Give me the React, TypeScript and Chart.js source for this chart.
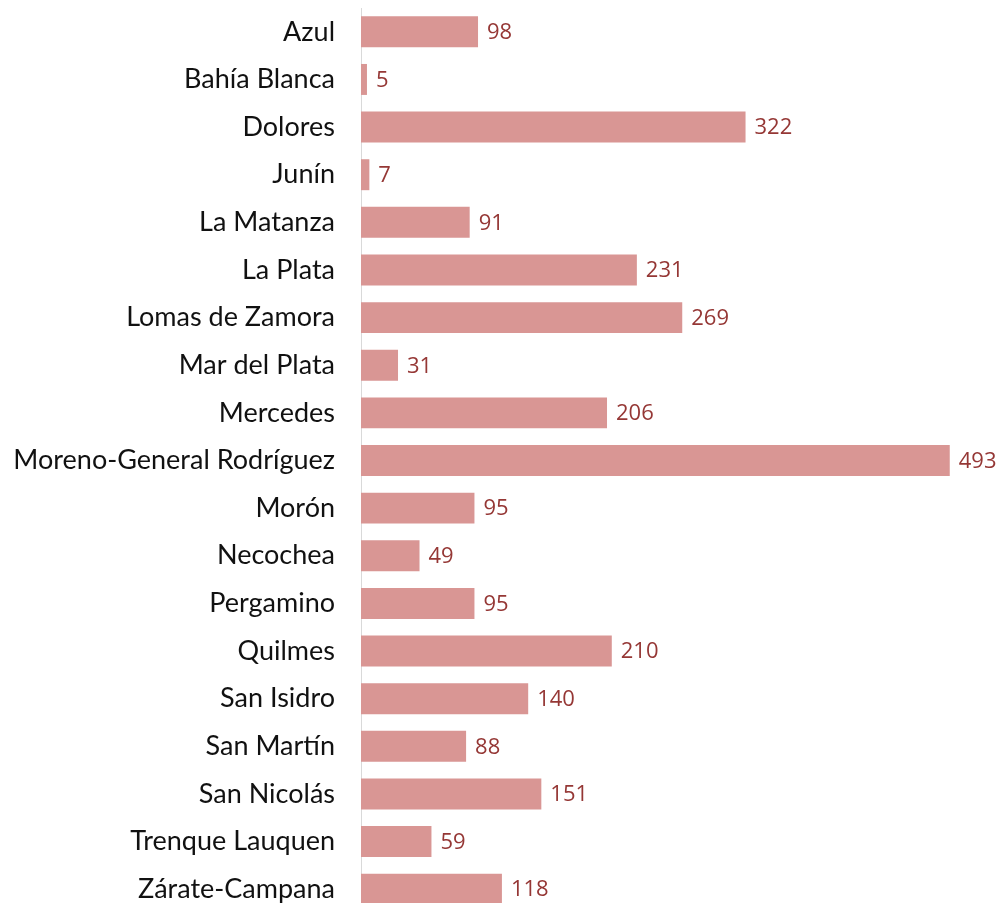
import React, { useEffect, useRef } from "react";
import { Chart, registerables } from "chart.js";

Chart.register(...registerables);

const categories = [
  "Azul",
  "Bahía Blanca",
  "Dolores",
  "Junín",
  "La Matanza",
  "La Plata",
  "Lomas de Zamora",
  "Mar del Plata",
  "Mercedes",
  "Moreno-General Rodríguez",
  "Morón",
  "Necochea",
  "Pergamino",
  "Quilmes",
  "San Isidro",
  "San Martín",
  "San Nicolás",
  "Trenque Lauquen",
  "Zárate-Campana",
];

const values = [98, 5, 322, 7, 91, 231, 269, 31, 206, 493, 95, 49, 95, 210, 140, 88, 151, 59, 118];

const BAR_COLOR = "#D99694";
const LABEL_COLOR = "#953735";

const valueLabels = {
  id: "valueLabels",
  afterDatasetsDraw(chart: any) {
    const ctx = chart.ctx;
    const meta = chart.getDatasetMeta(0);
    ctx.save();
    ctx.fillStyle = LABEL_COLOR;
    ctx.font = "22px 'Open Sans'";
    ctx.textAlign = "left";
    ctx.textBaseline = "middle";
    meta.data.forEach((bar: any, i: number) => {
      ctx.fillText(String(values[i]), bar.x + 9, bar.y + 1);
    });
    ctx.restore();
  },
};

export default function App() {
  const ref = useRef<HTMLCanvasElement>(null);
  useEffect(() => {
    if (!ref.current) return;
    const chart = new Chart(ref.current, {
      type: "bar",
      data: {
        labels: categories,
        datasets: [
          {
            data: values,
            backgroundColor: BAR_COLOR,
            borderWidth: 0,
            categoryPercentage: 0.65,
            barPercentage: 1,
          },
        ],
      },
      plugins: [valueLabels],
      options: {
        indexAxis: "y",
        animation: false,
        responsive: false,
        maintainAspectRatio: false,
        layout: { padding: { top: 8, right: 20, bottom: 0, left: 0 } },
        plugins: { legend: { display: false }, tooltip: { enabled: false } },
        scales: {
          x: { display: false, min: 0, max: 520 },
          y: {
            afterFit(scale: any) {
              scale.width = 361;
              scale.paddingTop = 0;
              scale.paddingBottom = 0;
            },
            grid: { display: false, drawTicks: false },
            border: { display: true, color: "#D9D9D9", width: 1 },
            ticks: {
              color: "#111111",
              padding: 26,
              font: { family: "Lato", size: 27 },
            },
          },
        },
      },
    });
    return () => chart.destroy();
  }, []);
  return (
    <div style={{ position: "absolute", left: 0, top: 0, width: 1002, height: 913 }}>
      <canvas ref={ref} width={1002} height={913} style={{ display: "block" }} />
    </div>
  );
}
